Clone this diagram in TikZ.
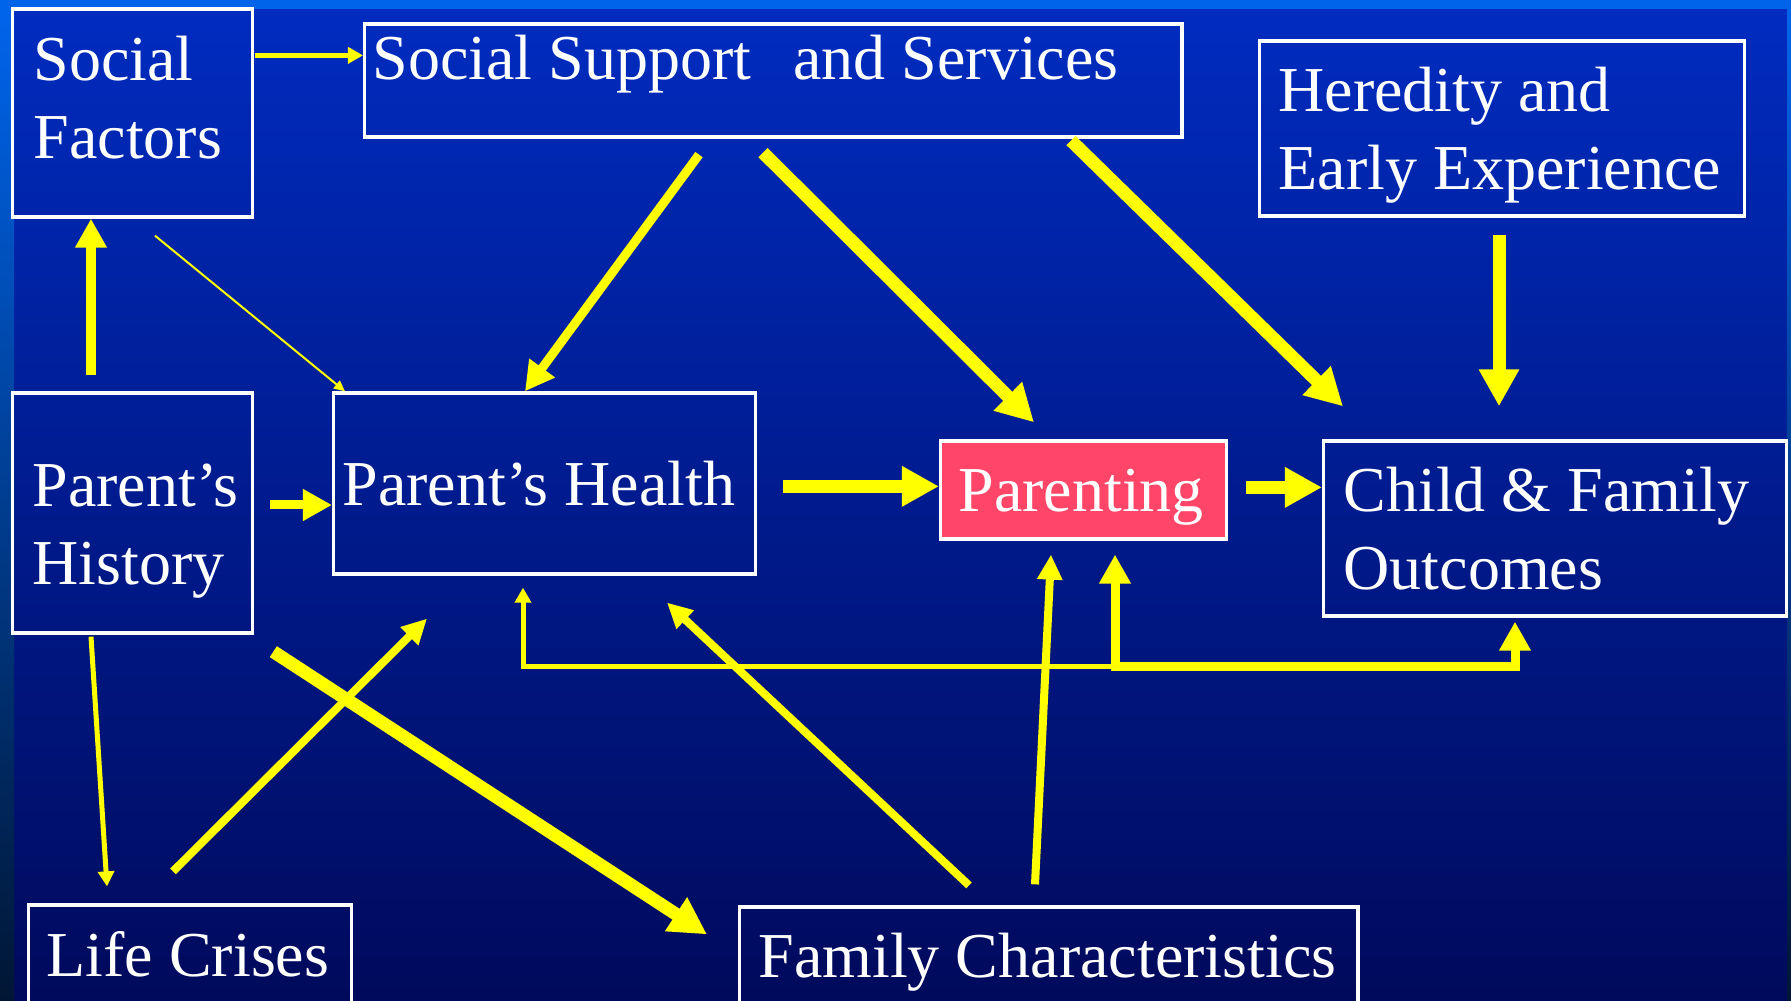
\documentclass[tikz,border=0pt]{standalone}
\usepackage{fontspec}
\setmainfont{Liberation Serif}
\usetikzlibrary{arrows.meta,calc}
\hyphenpenalty=10000

\definecolor{slidetop}{RGB}{0,44,192}
\definecolor{slidemid}{RGB}{0,30,150}
\definecolor{slidebot}{RGB}{0,10,92}
\definecolor{rim}{RGB}{0,100,235}
\definecolor{rimdark}{RGB}{0,22,52}
\definecolor{arrowyellow}{RGB}{255,255,0}
\definecolor{parentingred}{RGB}{255,70,105}

\tikzset{
  box/.style={draw=white, line width=0.9pt, text=white, anchor=base west,
    align=flush left, inner ysep=0pt, font=\fontsize{18.2}{21.9}\selectfont},
  hairarr/.style={draw=arrowyellow, line width=0.02cm, -{Triangle[length=0.11cm,width=0.10cm]}},
  thinarr/.style={draw=arrowyellow, line width=0.05cm, -{Triangle[length=0.15cm,width=0.16cm]}},
  medarr/.style={draw=arrowyellow, line width=0.08cm, -{Triangle[length=0.25cm,width=0.24cm]}},
  midarr/.style={draw=arrowyellow, line width=0.09cm, -{Triangle[length=0.29cm,width=0.30cm]}},
  thickarr/.style={draw=arrowyellow, line width=0.13cm, -{Triangle[length=0.37cm,width=0.38cm]}}
}

\begin{document}
\begin{tikzpicture}[x=0.01cm, y=-0.01cm]

% slide background
\useasboundingbox (0,0) rectangle (1791,1001);
\clip (0,0) rectangle (1791,1001);
\fill[top color=slidetop, middle color=slidemid, bottom color=slidebot] (0,0) rectangle (1791,1001);
\fill[rim] (0,0) rectangle (1791,9);
\fill[top color=rim, bottom color=rimdark] (0,9) rectangle (14,1001);
\fill[top color=rim, bottom color=rimdark] (1787,9) rectangle (1791,1001);

% boxes
\node[box, inner xsep=0.21cm, text width=1.98cm, text height=0.72cm, text depth=1.36cm] (soc) at (11,81) {Social\\Factors};
\node[box, inner xsep=0.08cm, text width=8.01cm, text height=0.56cm, text depth=0.57cm] (supp) at (363,80) {Social Support\hspace{0.42cm}and Services};
\node[box, inner xsep=0.19cm, text width=4.47cm, text height=0.71cm, text depth=1.04cm] (her) at (1258,112) {Heredity and\\Early~Experience};
\node[box, inner xsep=0.20cm, text width=2.00cm, text height=1.14cm, text depth=1.26cm] (hist) at (11,507) {Parent's\\History};
\node[box, inner xsep=0.09cm, text width=4.04cm, text height=1.13cm, text depth=0.68cm] (hlth) at (332,506) {Parent's~Health};
\node[box, fill=parentingred, inner xsep=0.18cm, text width=2.50cm, text height=0.71cm, text depth=0.27cm] (par) at (939,512) {Parenting};
\node[box, inner xsep=0.20cm, text width=4.23cm, text height=0.71cm, text depth=1.04cm] (out) at (1322,512) {Child~\&~Family\\Outcomes};
\node[box, inner xsep=0.18cm, text width=2.87cm, text height=0.71cm, text depth=1.0cm] (life) at (27,976) {Life~Crises};
\node[box, inner xsep=0.19cm, text width=5.80cm, text height=0.71cm, text depth=1.0cm] (fam) at (738,978) {Family~Characteristics};

% top row
\draw[thinarr] ($(soc.north east)+(1,48)$) coordinate (a1) -- (a1 -| supp.west);
\draw[midarr] ($(hist.north west)+(80,-16)$) coordinate (b1) -- (b1 |- soc.south);
\draw[hairarr] ($(soc.south west)+(144,17)$) -- ($(hlth.north west)+(13,0)$);
\draw[midarr] ($(supp.south west)+(336,16)$) -- ($(hlth.north west)+(193,0)$);
\draw[thickarr] ($(supp.south west)+(400,14)$) -- ($(par.north west)+(95,-17)$);
\draw[thickarr] ($(supp.south west)+(708,2)$) -- ($(out.north west)+(21,-33)$);
\draw[thickarr, shorten >=0.33cm] ($(her.south west)+(241,17)$) coordinate (g1) -- (g1 |- out.north);

% middle row
\draw[midarr] ($(hist.east)+(16,-8)$) coordinate (h1) -- (h1 -| hlth.west);
\draw[thickarr] ($(hlth.north east)+(26,95)$) coordinate (i1) -- (i1 -| par.west);
\draw[thickarr] ($(par.north east)+(18,48)$) coordinate (j1) -- (j1 -| out.west);

% lower part
\draw[thinarr] ($(hist.south west)+(80,2)$) -- ($(life.north west)+(80,-17)$);
\draw[medarr] ($(life.north west)+(146,-32)$) -- ($(hlth.south west)+(95,43)$);
\draw[thickarr] ($(hist.south east)+(19,17)$) -- ($(fam.north west)+(-31,29)$);
\draw[medarr] ($(fam.north west)+(231,-20)$) -- ($(hlth.south west)+(335,27)$);
\draw[medarr] ($(fam.north west)+(297,-21)$) -- ($(par.south west)+(112,14)$);

% feedback from the junction under parenting
\coordinate (jn) at ($(par.south west)+(176,126)$);
\draw[thinarr, shorten >=0.12cm] (jn) -| ($(hlth.south west)+(191,0)$);
\draw[midarr, line cap=rect, shorten >=0.14cm] (jn) -- (jn |- par.south);
\draw[midarr, line cap=rect, shorten >=0.04cm] (jn) -| ($(out.south west)+(193,0)$);

\end{tikzpicture}
\end{document}
